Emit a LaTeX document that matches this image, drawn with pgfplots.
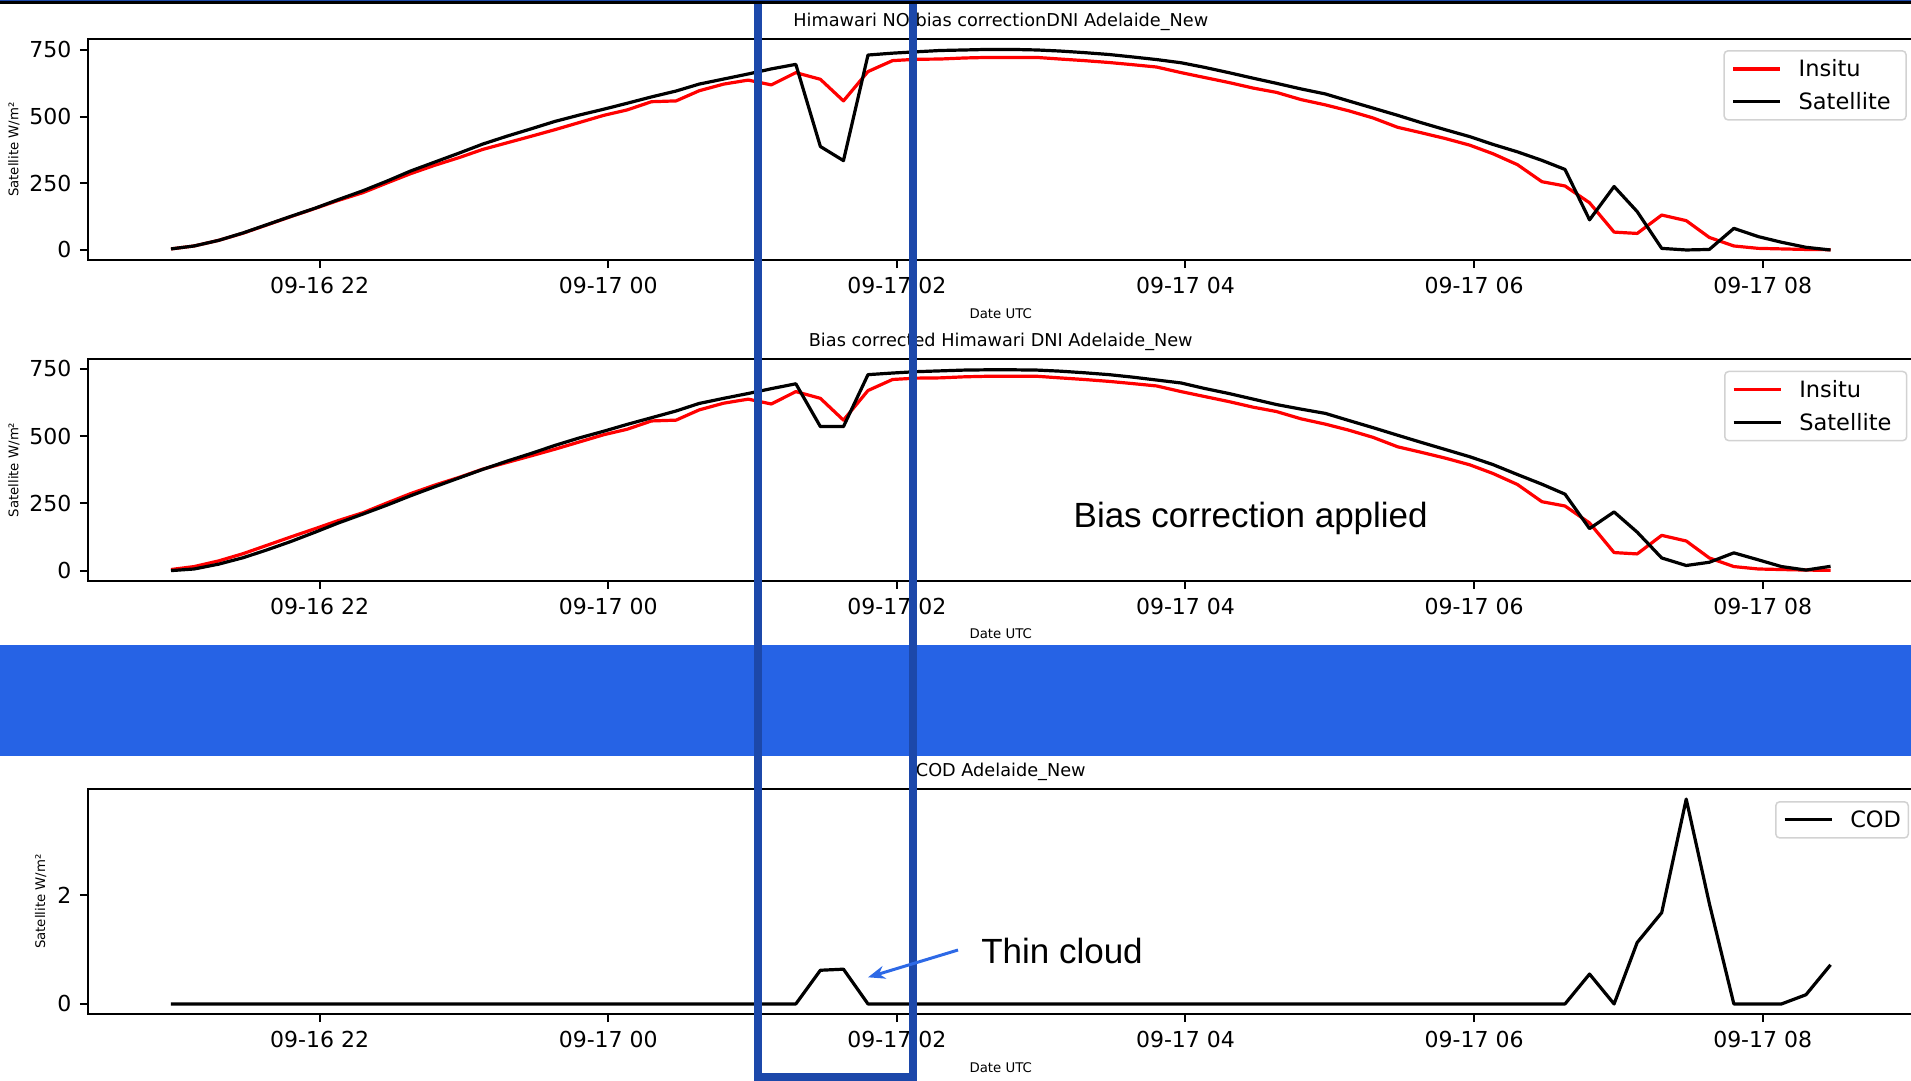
\documentclass[border=0pt]{standalone}
\usepackage{fontspec}
\setmainfont{DejaVu Sans}
\newfontfamily\arialf{Liberation Sans}
\usepackage{pgfplots}
\pgfplotsset{compat=1.18}
\usepackage{pgfplotstable}
\usetikzlibrary{arrows.meta}
\definecolor{bandblue}{RGB}{38,99,229}
\definecolor{rectblue}{RGB}{28,72,170}
\definecolor{arrowblue}{RGB}{45,105,230}
\definecolor{leggray}{RGB}{210,210,210}

\pgfplotstableread{
t insitu sat bias cod
20.97 4 4 0 0
21.13 15 15 6 0
21.30 36 36 24 0
21.47 63 64 48 0
21.63 93 94 76 0
21.80 125 126 108 0
21.97 156 157 143 0
22.13 186 189 177 0
22.30 215 222 210 0
22.47 252 259 244 0
22.63 286 296 278 0
22.80 318 330 312 0
22.97 347 364 345 0
23.13 377 397 376 0
23.30 402 427 407 0
23.47 427 455 436 0
23.63 451 482 465 0
23.80 478 506 493 0
23.97 505 528 518 0
24.13 525 550 543 0
24.30 556 574 568 0
24.47 559 596 593 0
24.63 597 622 621 0
24.80 622 641 640 0
24.97 637 660 658 0
25.13 619 679 676 0
25.30 665 696 694 0
25.47 640 388 535 0.62
25.63 559 335 535 0.64
25.80 669 731 728 0
25.97 710 738 734 0
26.13 715 743 739 0
26.30 716 748 742 0
26.47 720 750 745 0
26.63 722 752 746 0
26.80 722 752 746 0
26.97 722 750 745 0
27.13 716 746 741 0
27.30 710 740 735 0
27.47 703 733 728 0
27.63 695 724 719 0
27.80 686 714 708 0
27.97 665 702 697 0
28.13 647 685 677 0
28.30 628 665 658 0
28.47 607 644 637 0
28.63 591 625 617 0
28.80 564 604 600 0
28.97 544 585 584 0
29.13 522 559 558 0
29.30 495 532 531 0
29.47 460 505 503 0
29.63 440 478 477 0
29.80 418 451 450 0
29.97 393 425 423 0
30.13 361 396 394 0
30.30 320 368 357 0
30.47 256 336 321 0
30.63 240 302 284 0
30.80 177 113 156 0.55
30.97 67 238 218 0
31.13 62 144 143 1.13
31.30 131 6 47 1.68
31.47 110 0 19 3.77
31.63 47 2 31 1.85
31.80 15 81 66 0
31.97 6 50 40 0
32.13 4 29 15 0
32.30 2 10 2 0.17
32.47 1 0 16 0.72
}\datatable

\pgfplotsset{
  panel/.style={
    scale only axis, width=1825.5pt,
    xmin=20.395, xmax=33.045,
    axis line style={line width=2pt},
    tick align=outside, major tick length=8pt,
    xtick pos=left, ytick pos=left,
    every tick/.style={line width=2pt, black},
    xtick={22,24,26,28,30,32},
    xticklabels={09-16 22,09-17 00,09-17 02,09-17 04,09-17 06,09-17 08},
    ticklabel style={font=\fontsize{22}{26}\selectfont},
    xticklabel style={anchor=base, inner sep=0pt, yshift=-25.3pt},
    yticklabel style={anchor=east, inner sep=0pt, xshift=-8.4pt},
    /pgf/number format/assume math mode=true,
    title style={at={(axis description cs:0.5,1)}, anchor=base, inner sep=0pt, yshift=7pt, font=\fontsize{17.7}{21}\selectfont},
    xlabel style={at={(axis description cs:0.5,0)}, anchor=base, inner sep=0pt, yshift=-58pt, font=\fontsize{13.3}{16}\selectfont},
    ylabel style={anchor=base, inner sep=0pt, font=\fontsize{13.3}{16}\selectfont},
    xlabel={Date UTC},
    ylabel={Satellite W/m²},
    legend image code/.code={\draw[#1, line width=3.2pt] (0pt,0pt) -- (47pt,0pt);},
    legend cell align=left,
    legend style={draw=leggray, line width=1.5pt, rounded corners=4pt, fill=white,
      font=\fontsize{22.5}{27}\selectfont, inner xsep=7.3pt, inner ysep=9pt,
      row sep=14pt, column sep=17pt, nodes={inner sep=0pt}},
    every axis plot/.append style={line width=3.2pt, line join=round},
  }
}

\begin{document}
\begin{tikzpicture}
% top panel
\begin{axis}[panel, at={(88pt,-260pt)}, anchor=south west, height=220.7pt,
  ymin=-37.6, ymax=790, ytick={0,250,500,750},
  title={Himawari NO bias correctionDNI Adelaide\_New},
  ylabel style={at={(axis description cs:-0.0381,0.5)}},
  legend style={at={(axis description cs:0.89586,0.9515)}, anchor=north west}]
\addplot[red] table[x=t, y=insitu] {\datatable};
\addlegendentry{Insitu}
\addplot[black] table[x=t, y=sat] {\datatable};
\addlegendentry{Satellite\hspace*{8pt}}
\end{axis}
% middle panel
\begin{axis}[panel, at={(88pt,-580.7pt)}, anchor=south west, height=221.4pt,
  ymin=-37.5, ymax=785, ytick={0,250,500,750},
  title={Bias corrected Himawari DNI Adelaide\_New},
  ylabel style={at={(axis description cs:-0.0381,0.5)}},
  legend style={at={(axis description cs:0.89619,0.9485)}, anchor=north west}]
\addplot[red] table[x=t, y=insitu] {\datatable};
\addlegendentry{Insitu}
\addplot[black] table[x=t, y=bias] {\datatable};
\addlegendentry{Satellite\hspace*{8pt}}
\end{axis}
% bottom panel
\begin{axis}[panel, at={(88pt,-1014pt)}, anchor=south west, height=224.7pt,
  ymin=-0.185, ymax=3.95, ytick={0,2},
  title={COD Adelaide\_New},
  ylabel style={at={(axis description cs:-0.02345,0.5)}},
  legend style={at={(axis description cs:0.92413,0.9479)}, anchor=north west}]
\addplot[black] table[x=t, y=cod] {\datatable};
\addlegendentry{COD}
\end{axis}
% overlays
\fill[bandblue] (0pt,-645pt) rectangle (1911pt,-756pt);
\draw[rectblue, line width=8pt] (758.2pt,10pt) rectangle (912.8pt,-1077pt);
\fill[black] (0pt,0pt) rectangle (1911pt,-4.5pt);
\fill[rectblue] (0pt,0pt) rectangle (1911pt,-1.3pt);
\node[anchor=base, inner sep=0pt, font=\arialf\fontsize{35}{42}\selectfont] at (1250.7pt,-527.3pt) {Bias correction applied};
\node[anchor=base, inner sep=0pt, font=\arialf\fontsize{35}{42}\selectfont] at (1062pt,-963.3pt) {Thin cloud};
\draw[arrowblue, line width=3pt, -{Stealth[length=17pt,width=13pt]}] (958pt,-950pt) -- (868pt,-977.3pt);
\pgfresetboundingbox
\path[use as bounding box] (0pt,0pt) rectangle (1911pt,-1081pt);
\end{tikzpicture}
\end{document}
